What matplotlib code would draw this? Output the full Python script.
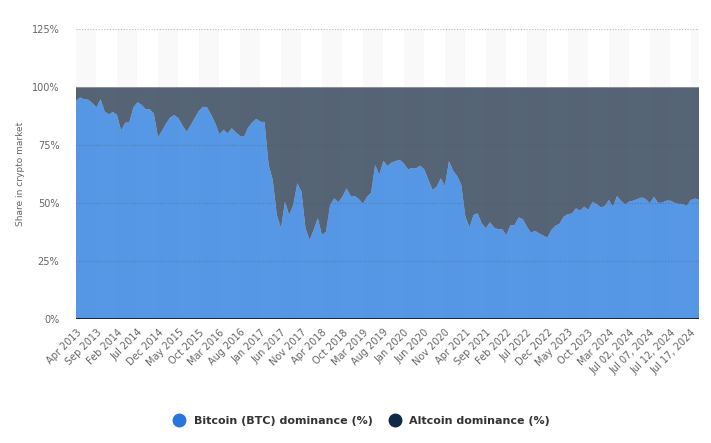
import numpy as np
import matplotlib
matplotlib.use("Agg")
import matplotlib.pyplot as plt
import pandas as pd
from matplotlib.lines import Line2D

# Bitcoin share of total crypto market cap (%)
btc_2013_2017 = [94.1, 95.5, 94.7, 94.5, 93.0, 91.2, 94.7, 89.4, 88.2, 89.2,
                 88.0, 81.2, 84.6, 84.7, 91.2, 93.4, 92.3, 90.4, 90.4, 88.4,
                 78.3, 81.2, 84.3, 86.9, 87.9, 86.5, 83.3, 80.7, 83.5, 86.7,
                 89.7, 91.5, 91.2, 88.0, 84.3, 79.6, 81.5, 80.0, 82.2, 80.4,
                 78.9, 78.6, 82.5, 84.7, 86.3, 85.0, 84.9, 66.4, 59.9, 44.8,
                 39.1, 50.6, 44.8, 49.1, 58.5, 54.9, 39.1]
btc_2018_2022 = [34.0, 38.4, 43.4, 36.2, 37.6, 49.1, 52.0, 50.3, 52.7, 56.3,
                 53.0, 53.0, 51.7, 49.6, 52.7, 54.4, 66.4, 62.1, 68.1, 65.9,
                 67.4, 68.1, 68.5, 67.0, 64.5, 65.1, 65.0, 66.1, 64.4, 59.9,
                 55.6, 57.0, 60.6, 57.3, 68.1, 63.9, 61.6, 57.8, 44.1, 39.5,
                 44.8, 45.5, 41.1, 39.1, 41.7, 39.4, 38.7, 38.7, 36.1, 40.5,
                 40.4, 43.8, 43.0, 39.8, 37.2, 38.0, 36.9, 36.0]
btc_2023_2024 = [35.0, 38.4, 40.2, 41.1, 44.1, 45.1, 45.5, 47.7, 46.7, 48.4,
                 47.0, 50.4, 49.6, 48.1, 48.6, 51.3, 48.4, 53.0, 50.9, 49.4,
                 50.6, 51.0, 51.7, 52.4, 51.7, 49.9, 52.7, 50.1, 50.1, 51.0,
                 51.0, 50.1, 49.6, 49.6, 48.7, 51.3, 51.9, 51.6]
btc = btc_2013_2017 + btc_2018_2022 + btc_2023_2024
alt = [round(100 - v, 1) for v in btc]

# categories: monthly (one month missing in 2018), then daily in July 2024
months = pd.date_range("2013-04-01", "2024-06-01", freq="MS")
months = months[months != pd.Timestamp("2018-07-01")]
days = pd.date_range("2024-07-01", "2024-07-19", freq="D")
labels = [d.strftime("%b %Y") for d in months] + [d.strftime("%b %d, %Y") for d in days]

x = np.arange(len(btc))

blue = "#2876dd"
navy = "#0f2a47"

fig = plt.figure(figsize=(7.11, 4.43), dpi=100)
ax = fig.add_axes([76/711, 1 - 319/443, 623/711, 290/443])

# alternating background bands
for k in range(0, len(x), 10):
    ax.axvspan(k, min(k + 5, len(x) - 1), color="#f9f9f9", zorder=0, lw=0)

ax.stackplot(x, btc, alt, colors=["#2c7ee0", "#2c3e54"], alpha=0.8, zorder=2, lw=0)
for yv in [25, 50, 75, 100, 125]:
    ax.axhline(yv, color="#555555", alpha=0.4, lw=0.8, ls=(0, (1, 1.5)), zorder=3)
ax.plot(x, [100] * len(x), color="#999999", lw=0.6, zorder=3)
ax.axhline(0, color="#111111", lw=1.2, zorder=4)

ax.set_xlim(0, len(x) - 1)
ax.set_ylim(0, 125)
ax.set_yticks([0, 25, 50, 75, 100, 125])
ax.set_yticklabels(["0%", "25%", "50%", "75%", "100%", "125%"])
ax.set_xticks(x[::5])
ax.set_xticklabels(labels[::5], rotation=45, ha="right", rotation_mode="anchor")
ax.tick_params(axis="both", length=0, labelsize=7, labelcolor="#666666")
ax.tick_params(axis="x", pad=6)
ax.tick_params(axis="y", pad=12)
for s in ax.spines.values():
    s.set_visible(False)

ax.set_ylabel("Share in crypto market", fontsize=6.5, color="#666666", labelpad=5)

handles = [Line2D([], [], marker="o", ls="", ms=9, color=blue),
           Line2D([], [], marker="o", ls="", ms=9, color=navy)]
leg = fig.legend(handles, ["Bitcoin (BTC) dominance (%)", "Altcoin dominance (%)"],
                 loc="center", bbox_to_anchor=(0.505, 1 - 421/443), ncol=2,
                 frameon=False, handletextpad=0.3, columnspacing=1.0,
                 prop={"size": 8, "weight": "bold"})
for t in leg.get_texts():
    t.set_color("#333333")

fig.savefig("out.png", dpi=100)
